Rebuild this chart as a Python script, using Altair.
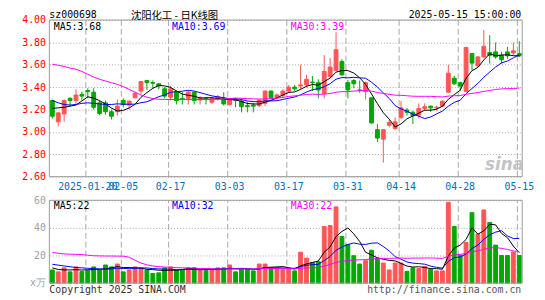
import altair as alt
import pandas as pd

MONO = "DejaVu Sans Mono"
CJK = "Noto Sans CJK SC"
RED = "#ff5555"
GREEN = "#00a800"

# ---- trading days shown (2025) ----
jan_days = [10, 13, 14, 15, 16, 17, 20, 21, 22, 23, 24, 27]
feb_days = [5, 6, 7, 10, 11, 12, 13, 14, 17, 18, 19, 20, 21, 24, 25, 26, 27, 28]
mar_days = [3, 4, 5, 6, 7, 10, 11, 12, 13, 14, 17, 18, 19, 20, 21, 24, 25, 26, 27, 28, 31]
apr_days = [1, 2, 3, 7, 8, 9, 10, 11, 14, 15, 16, 17, 18, 21, 22, 23, 24, 25, 28, 29, 30]
may_days = [6, 7, 8, 9, 12, 13, 14, 15]
dates = ([f"2025-01-{d:02d}" for d in jan_days] + [f"2025-02-{d:02d}" for d in feb_days]
         + [f"2025-03-{d:02d}" for d in mar_days] + [f"2025-04-{d:02d}" for d in apr_days]
         + [f"2025-05-{d:02d}" for d in may_days])

tick_dates = ["2025-01-20", "2025-02-05", "2025-02-17", "2025-03-03", "2025-03-17",
              "2025-03-31", "2025-04-14", "2025-04-28", "2025-05-15"]
price_ticks = [2.6, 2.8, 3.0, 3.2, 3.4, 3.6, 3.8, 4.0]
vol_ticks = [0, 20, 40, 60]

# ---- daily K data ----
open_ = [3.28, 3.09, 3.16, 3.30, 3.28, 3.335, 3.37, 3.355, 3.26, 3.26,
         3.18, 3.18, 3.28, 3.24, 3.305, 3.365, 3.46, 3.44, 3.43, 3.385,
         3.31, 3.36, 3.30, 3.30, 3.355, 3.285, 3.30, 3.265, 3.295, 3.295,
         3.245, 3.29, 3.275, 3.235, 3.24, 3.235, 3.255, 3.365, 3.305, 3.325,
         3.365, 3.40, 3.41, 3.42, 3.445, 3.44, 3.345, 3.495, 3.55, 3.63,
         3.44, 3.46, 3.375, 3.36, 3.305, 3.02, 2.935, 3.06, 3.03, 3.13,
         3.195, 3.175, 3.15, 3.21, 3.23, 3.215, 3.23, 3.355, 3.48, 3.44,
         3.36, 3.70, 3.59, 3.67, 3.71, 3.715, 3.685, 3.715, 3.705, 3.70]
close = [3.14, 3.17, 3.28, 3.28, 3.33, 3.32, 3.36, 3.22, 3.165, 3.18,
         3.14, 3.23, 3.245, 3.275, 3.345, 3.45, 3.44, 3.435, 3.41, 3.32,
         3.385, 3.28, 3.295, 3.355, 3.28, 3.305, 3.29, 3.30, 3.315, 3.25,
         3.29, 3.28, 3.225, 3.225, 3.23, 3.285, 3.365, 3.305, 3.33, 3.365,
         3.40, 3.385, 3.42, 3.47, 3.44, 3.375, 3.54, 3.58, 3.735, 3.51,
         3.375, 3.43, 3.37, 3.44, 3.08, 2.945, 3.02, 3.085, 3.09, 3.215,
         3.175, 3.145, 3.21, 3.225, 3.215, 3.22, 3.275, 3.525, 3.43, 3.41,
         3.755, 3.615, 3.67, 3.765, 3.685, 3.67, 3.645, 3.68, 3.725, 3.68]
high = [3.29, 3.18, 3.29, 3.31, 3.38, 3.36, 3.39, 3.39, 3.28, 3.28,
        3.20, 3.29, 3.30, 3.28, 3.36, 3.45, 3.46, 3.46, 3.435, 3.40,
        3.41, 3.37, 3.355, 3.37, 3.36, 3.32, 3.31, 3.31, 3.33, 3.355,
        3.30, 3.305, 3.30, 3.27, 3.26, 3.29, 3.37, 3.37, 3.345, 3.38,
        3.42, 3.42, 3.60, 3.51, 3.50, 3.47, 3.686, 3.66, 3.89, 3.65,
        3.465, 3.47, 3.46, 3.45, 3.305, 3.07, 3.025, 3.11, 3.13, 3.275,
        3.215, 3.19, 3.255, 3.255, 3.235, 3.235, 3.28, 3.60, 3.50, 3.45,
        3.76, 3.70, 3.68, 3.91, 3.865, 3.80, 3.715, 3.76, 3.80, 3.81]
low = [3.12, 3.05, 3.09, 3.23, 3.25, 3.28, 3.30, 3.20, 3.15, 3.155,
       3.11, 3.145, 3.22, 3.20, 3.30, 3.34, 3.375, 3.39, 3.38, 3.30,
       3.28, 3.245, 3.245, 3.245, 3.245, 3.245, 3.245, 3.25, 3.28, 3.235,
       3.235, 3.22, 3.175, 3.175, 3.175, 3.22, 3.23, 3.29, 3.29, 3.305,
       3.35, 3.365, 3.38, 3.395, 3.365, 3.30, 3.30, 3.48, 3.54, 3.50,
       3.30, 3.39, 3.35, 3.29, 3.075, 2.91, 2.725, 3.04, 3.02, 3.115,
       3.145, 3.07, 3.12, 3.19, 3.18, 3.19, 3.225, 3.35, 3.42, 3.365,
       3.36, 3.55, 3.58, 3.66, 3.61, 3.654, 3.61, 3.654, 3.683, 3.669]
ma5 = [3.21, 3.215, 3.22, 3.23, 3.24, 3.276, 3.314, 3.302, 3.279, 3.249,
       3.213, 3.187, 3.192, 3.214, 3.247, 3.309, 3.351, 3.389, 3.416, 3.411,
       3.398, 3.366, 3.338, 3.327, 3.319, 3.303, 3.305, 3.306, 3.298, 3.292,
       3.289, 3.287, 3.272, 3.254, 3.25, 3.249, 3.266, 3.282, 3.303, 3.33,
       3.353, 3.357, 3.38, 3.408, 3.423, 3.418, 3.449, 3.481, 3.534, 3.548,
       3.548, 3.526, 3.484, 3.425, 3.339, 3.253, 3.171, 3.114, 3.044, 3.071,
       3.117, 3.142, 3.167, 3.194, 3.194, 3.203, 3.229, 3.292, 3.333, 3.372,
       3.479, 3.547, 3.576, 3.643, 3.698, 3.681, 3.687, 3.689, 3.681, 3.68]
ma10 = [3.28, 3.26, 3.245, 3.24, 3.245, 3.255, 3.26, 3.255, 3.25, 3.245,
        3.245, 3.251, 3.247, 3.247, 3.248, 3.261, 3.269, 3.291, 3.315, 3.329,
        3.354, 3.359, 3.364, 3.372, 3.365, 3.351, 3.336, 3.322, 3.313, 3.306,
        3.296, 3.296, 3.289, 3.276, 3.271, 3.269, 3.277, 3.277, 3.279, 3.29,
        3.301, 3.312, 3.331, 3.356, 3.377, 3.386, 3.403, 3.431, 3.471, 3.486,
        3.483, 3.488, 3.483, 3.48, 3.444, 3.401, 3.349, 3.299, 3.235, 3.205,
        3.185, 3.157, 3.141, 3.119, 3.133, 3.16, 3.186, 3.23, 3.264, 3.283,
        3.341, 3.388, 3.434, 3.488, 3.535, 3.58, 3.617, 3.633, 3.662, 3.689]
ma30 = [3.605, 3.595, 3.585, 3.57, 3.56, 3.54, 3.515, 3.49, 3.47, 3.455,
        3.44, 3.425, 3.405, 3.38, 3.355, 3.33, 3.31, 3.298, 3.292, 3.29,
        3.29, 3.29, 3.29, 3.29, 3.29, 3.29, 3.29, 3.29, 3.292, 3.293,
        3.298, 3.302, 3.300, 3.298, 3.295, 3.294, 3.294, 3.297, 3.302, 3.308,
        3.317, 3.322, 3.328, 3.334, 3.338, 3.335, 3.338, 3.343, 3.354, 3.360,
        3.360, 3.365, 3.368, 3.370, 3.364, 3.352, 3.343, 3.336, 3.328, 3.327,
        3.323, 3.319, 3.318, 3.318, 3.318, 3.315, 3.312, 3.320, 3.323, 3.325,
        3.336, 3.344, 3.352, 3.362, 3.370, 3.380, 3.384, 3.387, 3.387, 3.392]

# ---- volume (x万) ----
volume = [9.5, 8.1, 11, 8.1, 11.7, 8.3, 9, 11.7, 9.5, 13.1,
          11.7, 13.8, 8.1, 9.5, 11.7, 11, 9.5, 6.9, 7.4, 11,
          11.7, 9.5, 9.5, 11, 11, 9.5, 9, 9.5, 11, 11,
          13.1, 8.1, 10, 10, 8.8, 13.8, 13.8, 11, 11, 10,
          10, 8.8, 22.4, 18.1, 15, 15.5, 41, 41.7, 55.2, 33.8,
          28, 19.8, 13.8, 16.2, 23.8, 18, 14.5, 9.5, 14.5, 14.5,
          8.5, 11, 10.5, 12, 10, 8.8, 8.8, 58.5, 41, 20.2,
          29.5, 51, 35.5, 53, 44, 27.5, 20, 20, 22.5, 20]
vma5 = [11, 9.8, 9.5, 9.5, 9.68, 9.44, 9.62, 9.76, 10.04, 10.32,
        11, 11.96, 11.24, 11.24, 10.96, 10.82, 9.96, 9.72, 9.3, 9.16,
        9.3, 9.3, 9.82, 10.54, 10.54, 10.1, 10, 10, 10, 10,
        10.72, 10.54, 10.64, 10.44, 10, 10.14, 11.28, 11.48, 11.68, 11.92,
        11.16, 10.16, 12.44, 13.86, 14.86, 15.96, 22.4, 26.26, 33.68, 37.44,
        39.94, 35.7, 30.12, 22.32, 20.32, 18.32, 17.26, 16.4, 16.06, 14.2,
        12.3, 11.6, 11.8, 11.3, 10.4, 10.46, 10.02, 19.62, 25.42, 27.46,
        31.6, 40.04, 35.44, 37.84, 42.6, 42.2, 36, 32.9, 26.8, 22]
vma10 = [13.6, 13, 12.4, 11.8, 11.3, 11, 10.7, 10.5, 10.2, 10,
         10.22, 10.79, 10.5, 10.64, 10.64, 10.91, 10.96, 10.48, 10.27, 10.06,
         10.06, 9.63, 9.77, 9.92, 9.85, 9.7, 9.65, 9.91, 10.27, 10.27,
         10.41, 10.27, 10.32, 10.22, 10, 10.43, 10.91, 11.06, 11.06, 10.96,
         10.65, 10.72, 11.96, 12.77, 13.39, 13.56, 16.28, 19.35, 23.77, 26.15,
         27.95, 29.05, 28.19, 28, 28.88, 29.13, 26.48, 23.26, 19.19, 17.26,
         15.31, 14.43, 14.1, 13.68, 12.3, 11.38, 10.81, 15.71, 18.36, 18.93,
         21.03, 25.03, 27.53, 31.63, 35.03, 36.9, 38.02, 34.17, 32.32, 32.3]
vma30 = [22.1, 21.6, 21.1, 20.9, 20.8, 20.6, 20.2, 19.8, 19.7, 19.6,
         19.6, 19.5, 19.5, 18.7, 16.5, 14.5, 13.2, 12.4, 11.9, 11.6,
         11.4, 11.2, 11.0, 10.9, 10.8, 10.6, 10.5, 10.4, 10.2, 10.11,
         10.23, 10.23, 10.2, 10.26, 10.16, 10.35, 10.51, 10.48, 10.53, 10.43,
         10.37, 10.21, 10.68, 10.97, 11.08, 11.23, 12.28, 13.44, 15.03, 15.79,
         16.34, 16.68, 16.82, 17.0, 17.42, 17.71, 17.89, 17.89, 18.01, 18.12,
         17.97, 18.07, 18.08, 18.15, 18.19, 18.02, 17.86, 19.44, 20.44, 20.78,
         21.43, 22.84, 23.27, 24.44, 25.4, 25.8, 25.1, 24.38, 23.29, 22.83]

header = ["sz000698", "沈阳化工 - 日K线图", "2025-05-15 15:00:00"]
price_ma_labels = ["MA5:3.68", "MA10:3.69", "MA30:3.39"]
vol_ma_labels = ["MA5:22", "MA10:32", "MA30:22"]
footer = ["Copyright 2025 SINA.COM", "http://finance.sina.com.cn"]

df = pd.DataFrame({
    "date": dates, "open": open_, "close": close, "high": high, "low": low,
    "ma5": ma5, "ma10": ma10, "ma30": ma30,
    "volume": volume, "vma5": vma5, "vma10": vma10, "vma30": vma30,
})
grid_df = pd.DataFrame({"date": tick_dates, "plo": price_ticks[0], "phi": price_ticks[-1],
                        "vlo": vol_ticks[0], "vhi": vol_ticks[-1]})
frame_df = pd.DataFrame({"plo": [price_ticks[0]], "phi": [price_ticks[-1]],
                         "vlo": [vol_ticks[0]], "vhi": [vol_ticks[-1]]})

W, H = 480, 267
xscale = alt.Scale(type="band", domain=dates, paddingInner=0.35, paddingOuter=0.175)
xaxis = alt.Axis(values=tick_dates, orient="bottom", offset=-108, grid=False, ticks=False,
                 domain=False, labelColor="#0070c0", labelFont=MONO, labelFontSize=10,
                 labelPadding=10, labelBaseline="middle", labelAngle=0, labelOverlap=False,
                 labelBound=False, labelFlush=False, bandPosition=0, title=None,
                 labelExpr=f"datum.value == '{tick_dates[0]}' ? datum.value : slice(datum.value, 5)")
X = alt.X("date:O", scale=xscale, axis=xaxis, title=None)
XG = alt.X("date:O", scale=xscale, axis=xaxis, title=None, bandPosition=0)

pscale = alt.Scale(domain=[1.649, 4.0], zero=False, nice=False)
vscale = alt.Scale(domain=[0, 190.7], zero=True, nice=False)
paxis = alt.Axis(orient="left", values=price_ticks, format=".2f", labelColor="#ff0000",
                 labelFont=MONO, labelFontSize=10, labelPadding=4, ticks=False, domain=False,
                 grid=True, gridColor="#a8a8a8", gridDash=[1, 2], title=None, labelOverlap=False)
vaxis = alt.Axis(orient="left", values=vol_ticks, labelColor="#a0a0a0", labelFont=MONO,
                 labelFontSize=10, labelPadding=4, ticks=False, domain=False, grid=True,
                 gridColor="#a8a8a8", gridDash=[1, 2], title=None, labelOverlap=False,
                 labelExpr="datum.value == 0 ? 'x万' : datum.label")

updown = alt.condition("datum.close >= datum.open", alt.value(RED), alt.value(GREEN))
base = alt.Chart(df)

vgrid_p = alt.Chart(grid_df).mark_rule(color="#a8a8a8", strokeDash=[6, 3], strokeWidth=1).encode(
    x=XG, y=alt.Y("plo:Q", scale=pscale, axis=None), y2="phi:Q")
vgrid_v = alt.Chart(grid_df).mark_rule(color="#a8a8a8", strokeDash=[6, 3], strokeWidth=1).encode(
    x=XG, y=alt.Y("vlo:Q", scale=vscale, axis=None), y2="vhi:Q")

wick = base.mark_rule(strokeWidth=1).encode(
    x=X, y=alt.Y("low:Q", scale=pscale, axis=paxis), y2="high:Q", color=updown)
body = base.mark_bar(strokeWidth=1).encode(
    x=X, y=alt.Y("open:Q", scale=pscale, axis=None), y2="close:Q", fill=updown, stroke=updown)


def pline(field, color, scale):
    return base.mark_line(color=color, strokeWidth=1).encode(
        x=X, y=alt.Y(f"{field}:Q", scale=scale, axis=None))


vbars = base.mark_bar(strokeWidth=1).encode(
    x=X, y=alt.Y("volume:Q", scale=vscale, axis=vaxis), fill=updown, stroke=updown)

frame_p = alt.Chart(frame_df).mark_rect(filled=False, stroke="#999999", strokeWidth=1).encode(
    x=alt.value(0), x2=alt.value(W), y=alt.Y("plo:Q", scale=pscale, axis=None), y2="phi:Q")
frame_v = alt.Chart(frame_df).mark_rect(filled=False, stroke="#999999", strokeWidth=1).encode(
    x=alt.value(0), x2=alt.value(W), y=alt.Y("vlo:Q", scale=vscale, axis=None), y2="vhi:Q")


def label(txt, x, y, color, align="left", size=10, font=MONO, baseline="middle", **kw):
    return alt.Chart(pd.DataFrame({"t": [txt]})).mark_text(
        align=align, baseline=baseline, color=color, font=font, fontSize=size, **kw
    ).encode(x=alt.value(x), y=alt.value(y), text="t:N")


texts = [
    label(header[0], 0, -2.3, "#000000", baseline="alphabetic"),
    label(header[1], 127, -0.8, "#000000", align="center", size=10.5, font=CJK,
          baseline="alphabetic"),
    label(header[2], W - 1, -2.3, "#000000", align="right", baseline="alphabetic"),
    label(price_ma_labels[0], 4.5, 7.3, "#000000"),
    label(price_ma_labels[1], 124.5, 7.3, "#0000ff"),
    label(price_ma_labels[2], 245, 7.3, "#ff00ff"),
    label(vol_ma_labels[0], 4.5, 188.5, "#000000"),
    label(vol_ma_labels[1], 124.5, 188.5, "#0000ff"),
    label(vol_ma_labels[2], 245, 188.5, "#ff00ff"),
    label(footer[0], 0, 274, "#333333"),
    label(footer[1], W - 1, 274, "#555555", align="right"),
    label("sina", 462, 147, "#c4c4c4", align="center", size=17, font="DejaVu Sans",
          fontStyle="italic", fontWeight="bold"),
]

chart = alt.layer(
    vgrid_p, vgrid_v, wick, body,
    pline("ma5", "#000000", pscale), pline("ma10", "#0000ff", pscale), pline("ma30", "#ff00ff", pscale),
    vbars,
    pline("vma5", "#000000", vscale), pline("vma10", "#0000ff", vscale), pline("vma30", "#ff00ff", vscale),
    frame_p, frame_v, *texts,
).resolve_scale(y="independent").properties(
    width=W, height=H,
    autosize=alt.AutoSizeParams(type="none"),
    padding={"left": 42, "top": 10, "right": 15, "bottom": 14},
    background="white",
).configure_view(stroke=None)

chart.save("out.html", embed_options={"renderer": "svg", "actions": False})
